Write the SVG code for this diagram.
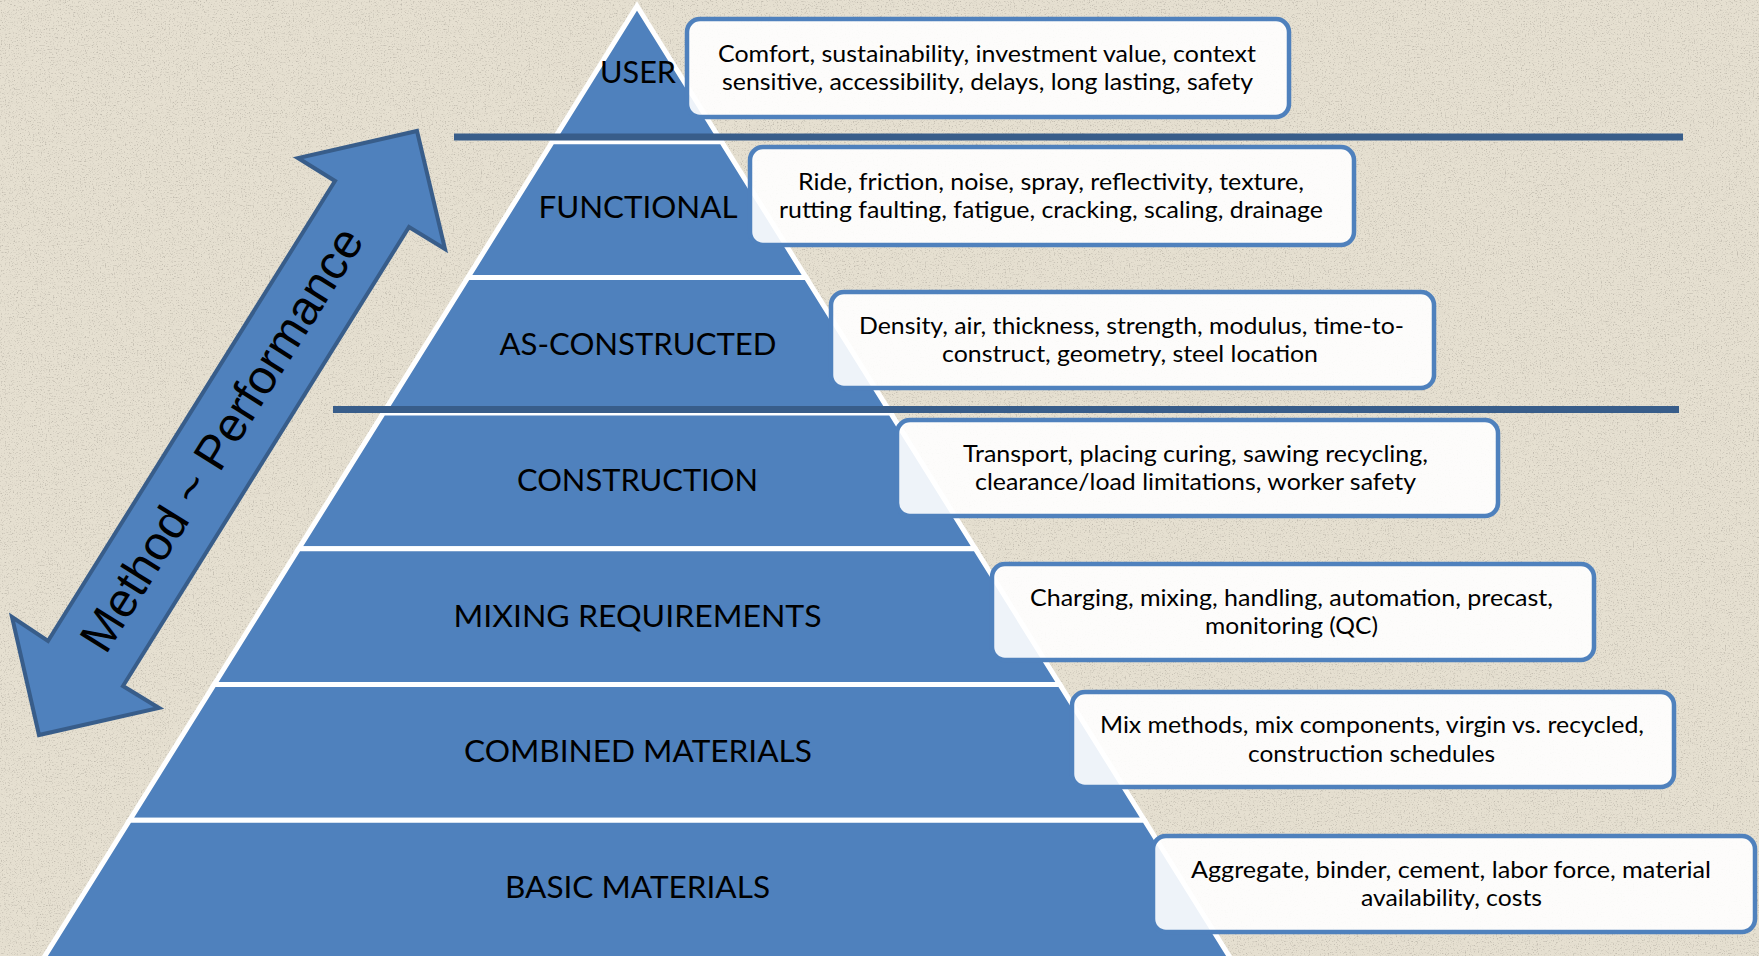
<svg xmlns="http://www.w3.org/2000/svg" width="1759" height="956" viewBox="0 0 1759 956">
<defs>
<style>
.layer{fill:#4F81BD;stroke:#FFFFFF;stroke-width:5;stroke-linejoin:miter}
.lbl{font-family:Lato,"Liberation Sans",sans-serif;font-size:30px;fill:#000;text-anchor:middle}
.box{fill:#FFFFFF;fill-opacity:0.9;stroke:#4F81BD;stroke-width:4.5}
.txt{font-family:Lato,"Liberation Sans",sans-serif;font-size:24px;fill:#000;text-anchor:middle}
.sep{stroke:#385D8A;stroke-width:7;fill:none}
.arrow{fill:#4F81BD;stroke:#385D8A;stroke-width:4;stroke-linejoin:miter}
.atxt{font-family:"Liberation Sans",Arial,sans-serif;font-size:48px;fill:#000;text-anchor:middle}
</style>
<filter id="noise" x="0" y="0" width="100%" height="100%">
<feTurbulence type="fractalNoise" baseFrequency="0.75" numOctaves="3" seed="11"/>
<feColorMatrix type="matrix" values="0 0 0 0 0.45  0 0 0 0 0.42  0 0 0 0 0.36  3.6 0 0 0 -2.0"/>
</filter>
<filter id="noise2" x="0" y="0" width="100%" height="100%">
<feTurbulence type="fractalNoise" baseFrequency="0.06 0.5" numOctaves="2" seed="4"/>
<feColorMatrix type="matrix" values="0 0 0 0 0.6  0 0 0 0 0.56  0 0 0 0 0.48  1.2 0 0 0 -0.5"/>
</filter>
</defs>
<g id="background">
<rect x="0" y="0" width="1759" height="956" fill="#E6E0D1"/>
<rect x="0" y="0" width="1759" height="956" filter="url(#noise2)" opacity="0.25"/>
<rect x="0" y="0" width="1759" height="956" filter="url(#noise)" opacity="0.7"/>
</g>
<g id="pyramid">
<g id="layer-user">
<polygon class="layer" points="637,6 721.6,141.7 552.4,141.7"/>
<text class="lbl" x="638" y="83" textLength="76" lengthAdjust="spacingAndGlyphs">USER</text>
</g>
<g id="layer-functional">
<polygon class="layer" points="552.4,141.7 721.6,141.7 806.1,277.4 467.9,277.4"/>
<text class="lbl" x="638" y="218" textLength="199" lengthAdjust="spacingAndGlyphs">FUNCTIONAL</text>
</g>
<g id="layer-as-constructed">
<polygon class="layer" points="467.9,277.4 806.1,277.4 890.7,413.1 383.3,413.1"/>
<text class="lbl" x="638" y="355" textLength="277" lengthAdjust="spacingAndGlyphs">AS-CONSTRUCTED</text>
</g>
<g id="layer-construction">
<polygon class="layer" points="383.3,413.1 890.7,413.1 975.3,548.8 298.7,548.8"/>
<text class="lbl" x="637.5" y="491" textLength="241" lengthAdjust="spacingAndGlyphs">CONSTRUCTION</text>
</g>
<g id="layer-mixing">
<polygon class="layer" points="298.7,548.8 975.3,548.8 1059.8,684.5 214.2,684.5"/>
<text class="lbl" x="637.5" y="627" textLength="368" lengthAdjust="spacingAndGlyphs">MIXING REQUIREMENTS</text>
</g>
<g id="layer-combined">
<polygon class="layer" points="214.2,684.5 1059.8,684.5 1144.4,820.2 129.6,820.2"/>
<text class="lbl" x="638" y="762" textLength="348" lengthAdjust="spacingAndGlyphs">COMBINED MATERIALS</text>
</g>
<g id="layer-basic">
<polygon class="layer" points="129.6,820.2 1144.4,820.2 1232.8,962 41.2,962"/>
<text class="lbl" x="637.5" y="898" textLength="265" lengthAdjust="spacingAndGlyphs">BASIC MATERIALS</text>
</g>
</g>
<g id="connectors">
<line class="sep" x1="454" y1="137" x2="1683" y2="137"/>
<line class="sep" x1="333" y1="409.5" x2="1679" y2="409.5"/>
</g>
<g id="box-user">
<rect class="box" x="687" y="19" width="602" height="98" rx="13"/>
<text class="txt" x="987" y="61.5" textLength="538" lengthAdjust="spacingAndGlyphs">Comfort, sustainability, investment value, context</text>
<text class="txt" x="987.5" y="90" textLength="531" lengthAdjust="spacingAndGlyphs">sensitive, accessibility, delays, long lasting, safety</text>
</g>
<g id="box-functional">
<rect class="box" x="750" y="147" width="604" height="98" rx="13"/>
<text class="txt" x="1051" y="189.5" textLength="506" lengthAdjust="spacingAndGlyphs">Ride, friction, noise, spray, reflectivity, texture,</text>
<text class="txt" x="1051" y="218" textLength="544" lengthAdjust="spacingAndGlyphs">rutting faulting, fatigue, cracking, scaling, drainage</text>
</g>
<g id="box-as-constructed">
<rect class="box" x="831" y="292" width="603" height="96" rx="13"/>
<text class="txt" x="1131.5" y="333.5" textLength="545" lengthAdjust="spacingAndGlyphs">Density, air, thickness, strength, modulus, time-to-</text>
<text class="txt" x="1130" y="362" textLength="376" lengthAdjust="spacingAndGlyphs">construct, geometry, steel location</text>
</g>
<g id="box-construction">
<rect class="box" x="897" y="420" width="601" height="96" rx="13"/>
<text class="txt" x="1195.5" y="461.5" textLength="465" lengthAdjust="spacingAndGlyphs">Transport, placing curing, sawing recycling,</text>
<text class="txt" x="1195.5" y="490" textLength="441" lengthAdjust="spacingAndGlyphs">clearance/load limitations, worker safety</text>
</g>
<g id="box-mixing">
<rect class="box" x="992" y="564" width="602" height="96" rx="13"/>
<text class="txt" x="1291.5" y="605.5" textLength="523" lengthAdjust="spacingAndGlyphs">Charging, mixing, handling, automation, precast,</text>
<text class="txt" x="1291.5" y="634" textLength="173" lengthAdjust="spacingAndGlyphs">monitoring (QC)</text>
</g>
<g id="box-combined">
<rect class="box" x="1072" y="692" width="602" height="95" rx="13"/>
<text class="txt" x="1372" y="733" textLength="544" lengthAdjust="spacingAndGlyphs">Mix methods, mix components, virgin vs. recycled,</text>
<text class="txt" x="1371.5" y="761.5" textLength="247" lengthAdjust="spacingAndGlyphs">construction schedules</text>
</g>
<g id="box-basic">
<rect class="box" x="1153" y="836" width="602" height="96" rx="13"/>
<text class="txt" x="1451" y="877.5" textLength="520" lengthAdjust="spacingAndGlyphs">Aggregate, binder, cement, labor force, material</text>
<text class="txt" x="1451.5" y="906" textLength="181" lengthAdjust="spacingAndGlyphs">availability, costs</text>
</g>
<g id="arrow-method-performance">
<polygon class="arrow" points="417,131 445,249 409,227 123,686 159,708 39,735 12,617 48,641 335,181 298,158"/>
<text class="atxt" transform="translate(221,439) rotate(-58)" x="0" y="17">Method ~ Performance</text>
</g>
</svg>
